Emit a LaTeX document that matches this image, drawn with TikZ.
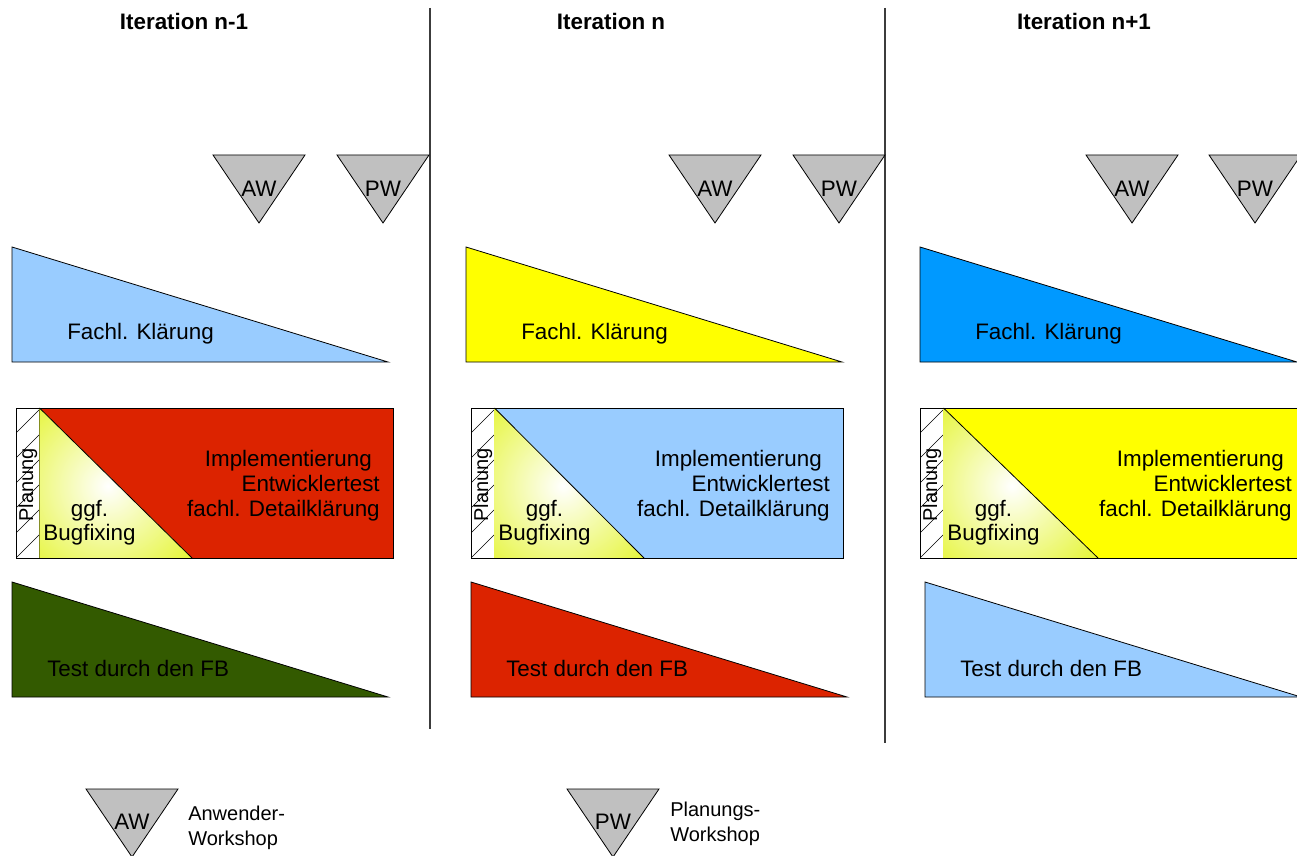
\documentclass[tikz,border=0pt]{standalone}
\usepackage{fontspec}
\setmainfont{Liberation Sans}
\definecolor{lblue}{RGB}{153,204,255}
\definecolor{dblue}{RGB}{0,153,255}
\definecolor{ryellow}{RGB}{255,255,0}
\definecolor{lime}{RGB}{222,242,0}
\definecolor{rred}{RGB}{220,35,0}
\definecolor{rgreen}{RGB}{51,90,0}
\definecolor{rgrey}{RGB}{192,192,192}
\definecolor{sepgrey}{RGB}{60,60,60}
\begin{document}
\begin{tikzpicture}[x=0.75pt,y=-0.75pt,
  shapeline/.style={draw=black,line width=0.6pt},
  wsshape/.style={shapeline,fill=rgrey},
  sepline/.style={draw=sepgrey,line width=1pt},
  hatchline/.style={draw=black,line width=0.45pt},
  lbl/.style={inner sep=0pt,font=\fontsize{16.8}{20}\selectfont},
  small/.style={inner sep=0pt,font=\fontsize{15}{18}\selectfont},
  legend/.style={inner sep=0pt,font=\fontsize{15}{18}\selectfont},
  ttl/.style={inner sep=0pt,font=\fontsize{16.8}{20}\selectfont\bfseries}]
\clip (0,0) rectangle (1297,856);
\fill[white] (0,0) rectangle (1297,856);

% titles
\node[ttl,anchor=base] (t1) at (184,30) {Iteration n-1};
\node[ttl,anchor=base] (t2) at (611,30) {Iteration n};
\node[ttl,anchor=base] (t3) at (1084,30) {Iteration n+1};

% separators
\draw[sepline] (430,8) -- (430,729);
\draw[sepline] (885,8) -- (885,743);

% workshop triangles
\foreach \x/\t/\n in {213/AW/aw1, 337/PW/pw1, 669/AW/aw2, 793/PW/pw2, 1086/AW/aw3, 1209/PW/pw3}{
  \draw[wsshape] (\x,155) -- (\x+92,155) -- (\x+46,223) -- cycle;
  \node[lbl,anchor=base] (\n) at (\x+46,196) {\t};
}

% columns
\foreach \fl/\fr/\fc/\bl/\br/\bc/\tri/\tl/\trr/\tc/\n in {
  12/388/lblue/16/393/rred/192/12/388/rgreen/1,
  466/842/ryellow/471/843/lblue/644/471/847/rred/2,
  920/1297/dblue/920/1305/ryellow/1098/925/1301/lblue/3}{
  % Fachl. Klaerung
  \draw[shapeline,fill=\fc] (\fl,247) -- (\fl,362) -- (\fr,362) -- cycle;
  \node[lbl,anchor=base west] (fk\n) at (\fl+55,339) {Fachl. Klärung};
  % implementation box
  \draw[shapeline,fill=\bc] (\bl,408) rectangle (\br,558);
  \fill[white] (\bl,408) rectangle (\bl+23.5,558);
  \begin{scope}
    \clip (\bl,408) rectangle (\bl+23.5,558);
    \foreach \k in {0,...,7}
      \draw[hatchline] (\bl,433+25*\k) -- (\bl+23.5,409.5+25*\k);
  \end{scope}
  \draw[shapeline] (\bl,408) rectangle (\bl+23.5,558);
  \node[small,rotate=90] (pl\n) at (\bl+12,485) {Planung};
  \begin{scope}
    \clip (\bl+23.5,408) -- (\bl+23.5,558) -- (\tri,558) -- cycle;
    \fill[lime] (\bl,400) rectangle (\tri,560);
    \shade[inner color=white,outer color=lime] (\bl+92,486) circle[radius=105pt];
  \end{scope}
  \draw[shapeline] (\bl+23.5,408) -- (\tri,558);
  \draw[shapeline] (\bl,408) rectangle (\br,558);
  \node[lbl,anchor=base] (gg\n) at (\bl+73.5,516) {ggf.};
  \node[lbl,anchor=base] (bf\n) at (\bl+73.5,540) {Bugfixing};
  \node[lbl,anchor=base east] (im\n) at (\br-21,466) {Implementierung};
  \node[lbl,anchor=base east] (et\n) at (\br-13,491) {Entwicklertest};
  \node[lbl,anchor=base east] (fd\n) at (\br-13,516) {fachl. Detailklärung};
  % test
  \draw[shapeline,fill=\tc] (\tl,582) -- (\tl,697) -- (\trr,697) -- cycle;
  \node[lbl,anchor=base west] (ts\n) at (\tl+35,676) {Test durch den FB};
}

% legend
\draw[wsshape] (86,789) -- (178,789) -- (132,857) -- cycle;
\node[lbl,anchor=base] (law) at (132,829) {AW};
\node[legend,anchor=base west] (law1) at (188,820) {Anwender-};
\node[legend,anchor=base west] (law2) at (188,845) {Workshop};
\draw[wsshape] (567,789) -- (659,789) -- (613,857) -- cycle;
\node[lbl,anchor=base] (lpw) at (613,829) {PW};
\node[legend,anchor=base west] (lpw1) at (670,816) {Planungs-};
\node[legend,anchor=base west] (lpw2) at (670,841) {Workshop};
\end{tikzpicture}
\end{document}
